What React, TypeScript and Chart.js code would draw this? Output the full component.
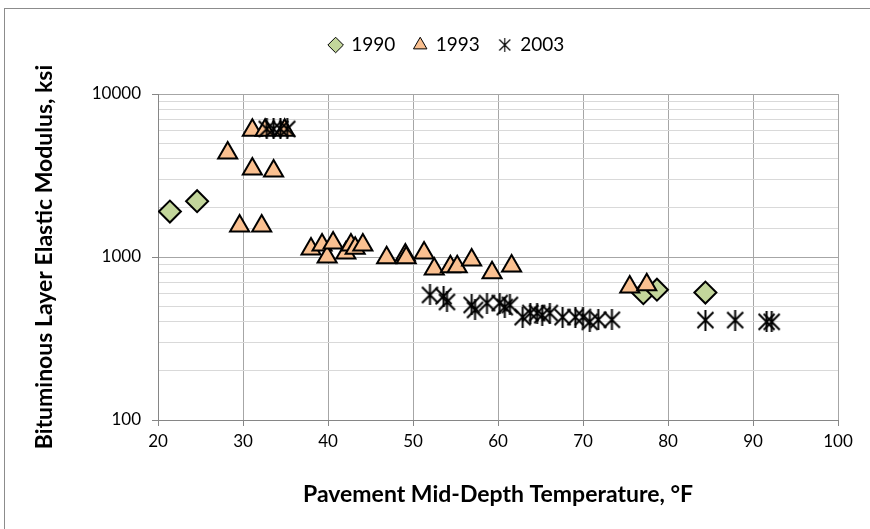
import React, { useEffect, useRef } from 'react';
import { Chart, registerables } from 'chart.js';

Chart.register(...registerables);

// ---- data ----
const temp1990 = [21.4, 24.6, 77.1, 78.7, 84.4];
const mod1990 = [1900, 2200, 600, 630, 605];

const temp1993 = [28.2, 29.6, 31.1, 31.1, 32.2, 32.6, 33.6, 34.9, 38.0, 39.3, 39.9, 40.6, 42.1, 42.7, 43.2, 44.1, 46.9, 49.1, 49.2, 51.3, 52.5, 54.4, 55.2, 56.9, 59.3, 61.6, 75.5, 77.5];
const mod1993 = [4350, 1550, 6000, 3470, 1550, 6000, 3370, 6000, 1120, 1185, 1000, 1220, 1060, 1185, 1130, 1185, 990, 1030, 990, 1060, 845, 870, 870, 960, 800, 880, 655, 675];

const temp2003 = [32.8, 33.6, 34.4, 35.2, 52.0, 53.6, 54.0, 56.9, 57.3, 58.7, 60.2, 60.8, 61.4, 62.9, 63.8, 64.6, 65.2, 66.1, 67.6, 69.1, 70.0, 70.8, 71.8, 73.4, 84.4, 87.9, 91.6, 92.2];
const mod2003 = [6100, 6100, 6100, 6100, 585, 575, 530, 508, 473, 522, 522, 493, 508, 428, 453, 453, 440, 453, 428, 428, 428, 400, 412, 412, 410, 410, 400, 400];

const seriesNames = ['1990', '1993', '2003'];
const xTitle = 'Pavement Mid-Depth Temperature, \u00B0F';
const yTitle = 'Bituminous Layer Elastic Modulus, ksi';

const FONT = 'Lato, "Noto Sans", sans-serif';

function makeStar(w: number, h: number, lw: number, inset: number) {
  const c = document.createElement('canvas');
  c.width = w;
  c.height = h;
  const g = c.getContext('2d')!;
  g.strokeStyle = '#000';
  g.lineWidth = lw;
  g.beginPath();
  g.moveTo(w / 2, 0);
  g.lineTo(w / 2, h);
  g.moveTo(inset, inset + (h - w) / 2);
  g.lineTo(w - inset, h - inset - (h - w) / 2);
  g.moveTo(w - inset, inset + (h - w) / 2);
  g.lineTo(inset, h - inset - (h - w) / 2);
  g.stroke();
  return c;
}

const isMajor = (v: any) => {
  const n = Number(v);
  if (!(n > 0)) return false;
  const l = Math.log10(n);
  return Math.abs(l - Math.round(l)) < 1e-6;
};

export default function App() {
  const ref = useRef<HTMLCanvasElement | null>(null);

  useEffect(() => {
    if (!ref.current) return;
    const star = makeStar(19, 21, 2, 1.5);
    const starLegend = makeStar(13, 14, 1.1, 1);

    const pts = (xs: number[], ys: number[]) => xs.map((x, i) => ({ x, y: ys[i] }));

    const chart = new Chart(ref.current, {
      type: 'scatter',
      data: {
        datasets: [
          {
            label: seriesNames[0],
            data: pts(temp1990, mod1990),
            pointStyle: 'rectRot',
            pointRadius: 11,
            pointHoverRadius: 11,
            backgroundColor: '#C3D69B',
            borderColor: '#000',
            borderWidth: 2,
            order: 2,
          },
          {
            label: seriesNames[1],
            data: pts(temp1993, mod1993),
            pointStyle: 'triangle',
            pointRadius: 11,
            pointHoverRadius: 11,
            backgroundColor: '#FAC090',
            borderColor: '#000',
            borderWidth: 2,
            order: 1,
          },
          {
            label: seriesNames[2],
            data: pts(temp2003, mod2003),
            pointStyle: star as any,
            pointRadius: 10,
            backgroundColor: '#000',
            borderColor: '#000',
            borderWidth: 2,
            order: 0,
          },
        ],
      },
      options: {
        animation: false,
        responsive: false,
        layout: { padding: { top: 46, left: 0, right: 32, bottom: 0 } },
        plugins: {
          tooltip: { enabled: false },
          legend: {
            position: 'top',
            labels: {
              usePointStyle: true,
              boxHeight: 11,
              boxWidth: 12,
              padding: 19,
              color: '#262626',
              font: { family: FONT, size: 19 },
              generateLabels: () => [
                { text: seriesNames[0], fillStyle: '#C3D69B', strokeStyle: '#000', lineWidth: 1, pointStyle: 'rectRot', datasetIndex: 0, hidden: false },
                { text: seriesNames[1], fillStyle: '#FAC090', strokeStyle: '#000', lineWidth: 1, pointStyle: 'triangle', datasetIndex: 1, hidden: false },
                { text: seriesNames[2], fillStyle: '#000', strokeStyle: '#000', lineWidth: 1, pointStyle: starLegend as any, datasetIndex: 2, hidden: false },
              ] as any,
            },
          },
        },
        scales: {
          x: {
            type: 'linear',
            min: 20,
            max: 100,
            afterFit: (s: any) => { s.height = 109; },
            ticks: {
              stepSize: 10,
              padding: 5,
              color: '#000',
              font: { family: FONT, size: 17 },
            },
            grid: { color: '#a6a6a6', tickColor: '#868686', tickLength: 6, lineWidth: 1 },
            border: { color: '#868686' },
            title: {
              display: true,
              text: xTitle,
              color: '#000',
              font: { family: FONT, size: 23, weight: 'bold' },
              padding: { top: 0, bottom: 21 },
            },
          },
          y: {
            type: 'logarithmic',
            min: 100,
            max: 10000,
            afterFit: (s: any) => { s.width = 158; },
            ticks: {
              autoSkip: false,
              padding: 11,
              color: '#000',
              font: { family: FONT, size: 17 },
              callback: (v: any) => (isMajor(v) ? String(Math.round(Number(v))) : ''),
            },
            grid: {
              color: (c: any) => (isMajor(c.tick && c.tick.value) ? '#a6a6a6' : '#d9d9d9'),
              tickColor: (c: any) => (isMajor(c.tick && c.tick.value) ? '#868686' : 'rgba(0,0,0,0)'),
              tickLength: 6,
              lineWidth: 1,
            },
            border: { color: '#868686' },
            title: {
              display: true,
              text: yTitle,
              color: '#000',
              font: { family: FONT, size: 23, weight: 'bold' },
              padding: { top: 31, bottom: 0 },
            },
          },
        },
      },
      plugins: [
        {
          id: 'legendShift',
          afterLayout: (ch: any) => {
            const lg = ch.legend;
            if (lg) {
              lg.left += 28;
              lg.right += 28;
              lg.top -= 29.5;
              lg.bottom -= 29.5;
            }
          },
        },
      ],
    });
    return () => chart.destroy();
  }, []);

  return (
    <div style={{ position: 'fixed', left: 0, top: 0, width: 870, height: 529, background: '#fff', overflow: 'hidden' }}>
      <div style={{ position: 'absolute', left: 4, top: 8, width: 900, height: 600, border: '1px solid #8c8c8c', boxSizing: 'border-box' }} />
      <canvas ref={ref} width={870} height={529} style={{ position: 'absolute', left: 0, top: 0, display: 'block' }} />
    </div>
  );
}
